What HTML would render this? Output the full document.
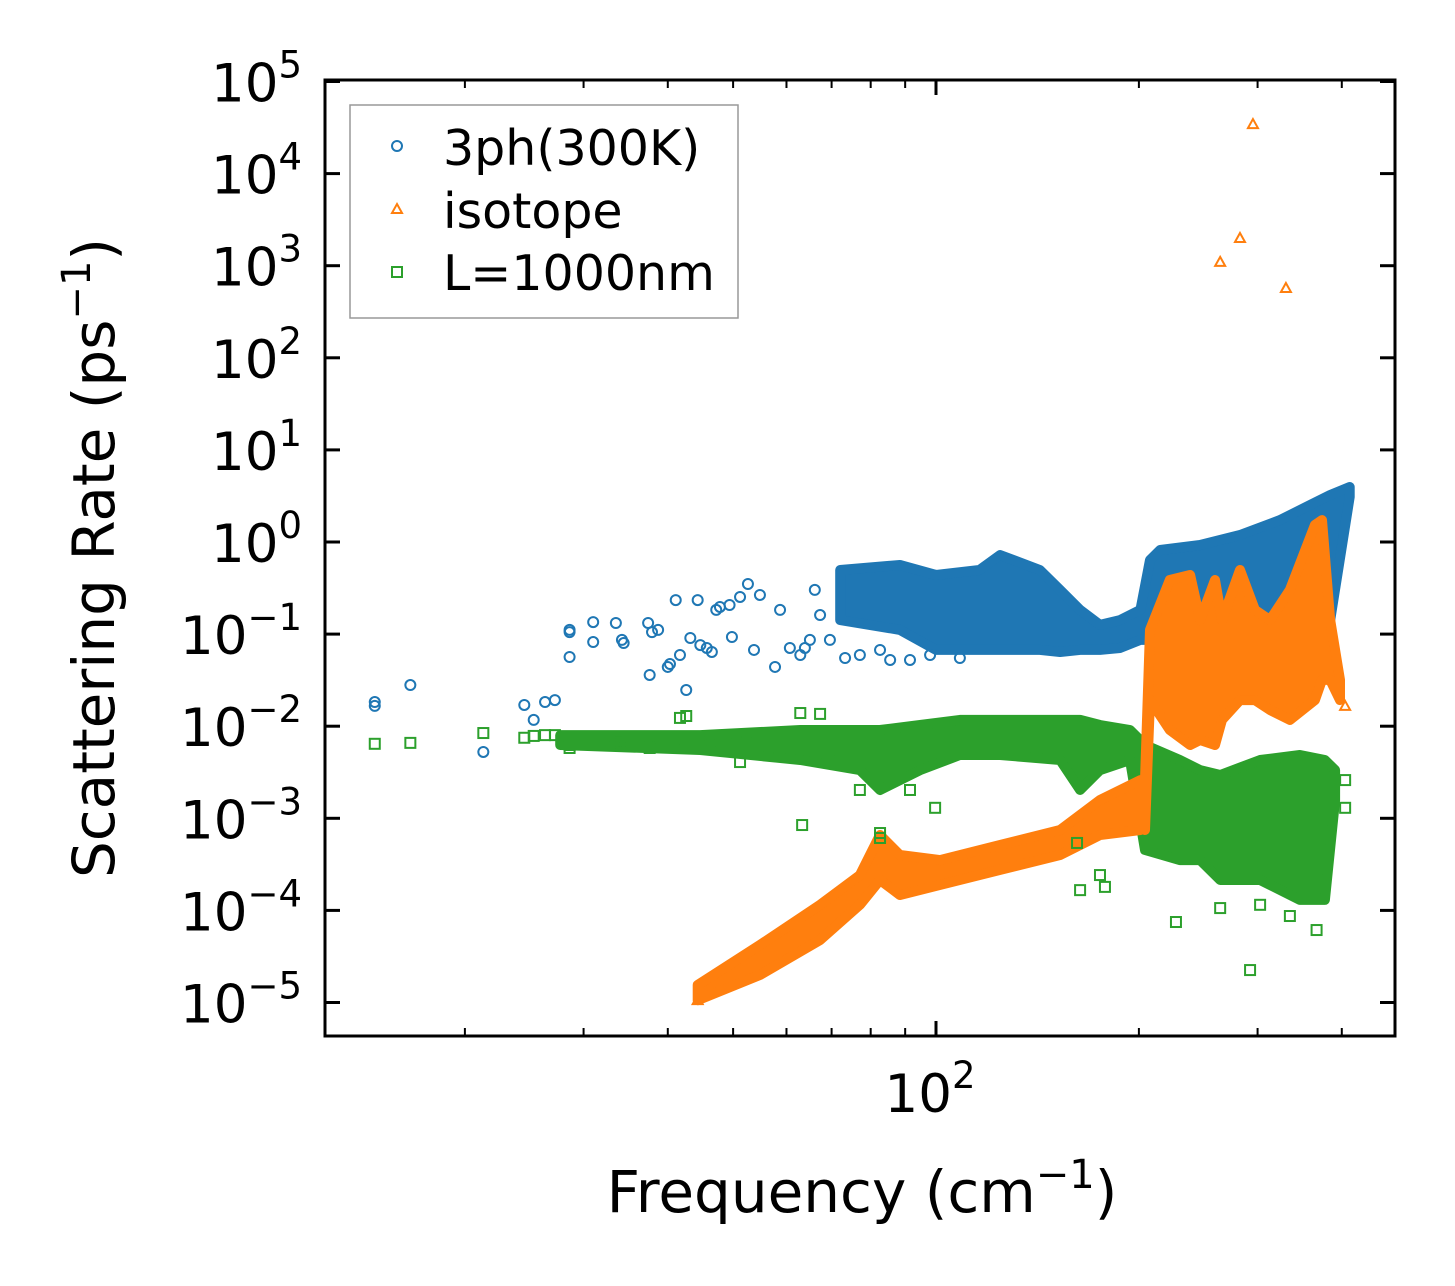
<!DOCTYPE html>
<html><head><meta charset="utf-8"><style>
html,body{margin:0;padding:0;background:#fff}
svg{display:block;font-family:"DejaVu Sans","Liberation Sans",sans-serif}
</style></head><body>
<svg id="chart" width="1455" height="1286" viewBox="0 0 1455 1286" xmlns="http://www.w3.org/2000/svg">
<rect x="0" y="0" width="1455" height="1286" fill="#fff"/>
<g id="bands"></g>
<g id="marks"></g>
<g id="axes"></g>
<rect x="325" y="80" width="1070" height="956" fill="none" stroke="#000" stroke-width="3"/>
<g>
<rect x="350" y="105" width="388" height="213" fill="#fff" stroke="#999" stroke-width="1.5"/>
<circle cx="397" cy="146" r="5" fill="none" stroke="#1f77b4" stroke-width="2"/>
<text x="443" y="165" font-size="49">3ph(300K)</text>
<polygon points="397,204 402,213 392,213" fill="none" stroke="#ff7f0e" stroke-width="2"/>
<text x="443" y="228" font-size="49">isotope</text>
<rect x="392" y="267" width="10" height="10" fill="none" stroke="#2ca02c" stroke-width="2"/>
<text x="443" y="290" font-size="49">L=1000nm</text>
</g>
<text x="862" y="1212" font-size="58" text-anchor="middle">Frequency (cm<tspan font-size="40" dy="-24">−1</tspan><tspan dy="24">)</tspan></text>
<text transform="translate(114,558) rotate(-90)" font-size="58" text-anchor="middle">Scattering Rate (ps<tspan font-size="40" dy="-24">−1</tspan><tspan dy="24">)</tspan></text>
</svg>
<script>
// ---- data ----
const blueBandFreq=[72.1,88.4,100,116,124.5,142.6,152.8,163.6,175.1,187.5,201,207.7,215,246.5,282.5,323.8,359,384.5,411];
const blueBandHigh=[0.497,0.563,0.438,0.497,0.722,0.497,0.302,0.183,0.126,0.142,0.183,0.638,0.819,0.928,1.19,1.73,2.52,3.24,3.96];
const blueBandLow=[0.142,0.111,0.0673,0.0673,0.0673,0.0673,0.064,0.0673,0.0673,0.0707,0.0865,0.0865,0.111,0.142,0.142,0.142,0.142,0.142,3.08];
const isoLowFreq=[44.3,54.8,67.3,77.1,82.6,88.4,101.4,124.5,152.8,175.1,201];
const isoLowHigh=[1.55e-5,4.21e-5,1.15e-4,2.42e-4,6.59e-4,4.0e-4,3.52e-4,5.13e-4,7.46e-4,1.58e-3,2.6e-3];
const isoLowLow=[1.06e-5,1.99e-5,4.77e-5,1.15e-4,2.14e-4,1.47e-4,1.89e-4,2.75e-4,4.0e-4,6.59e-4,7.46e-4];
const isoHighFreq=[204.2,207.7,222.3,238.2,246.5,259.4,265.7,282.5,297.3,313,335,364.9,373.8,384.5,397.5];
const isoHighHigh=[2.6e-3,0.111,0.387,0.438,0.142,0.387,0.142,0.497,0.183,0.142,0.302,1.53,1.73,0.142,0.0318];
const isoHighLow=[7.46e-4,0.0192,0.0091,0.00625,0.00708,0.00625,0.0117,0.0192,0.0192,0.015,0.0117,0.0192,0.0318,0.0318,0.0192];
const greenBandFreq=[27.7,44.7,62.9,77.1,82.6,94.7,108.5,124.5,152.8,163.6,175.1,194,204.2,230,246.5,264,302.6,346.7,377.6,391];
const greenBandHigh=[0.008,0.008,0.0091,0.0091,0.0091,0.0103,0.0117,0.0117,0.0117,0.0117,0.0103,0.0091,0.00625,0.0043,0.00334,0.00295,0.0043,0.00487,0.0043,0.00334];
const greenBandLow=[0.00625,0.00552,0.0043,0.00334,0.00203,0.00334,0.00487,0.00487,0.0043,0.00203,0.00334,0.0043,4.53e-4,3.52e-4,3.52e-4,2.14e-4,2.14e-4,1.3e-4,1.3e-4,1.58e-3];
const blueFreq=[14.7,14.7,16.6,21.3,24.5,25.3,26.3,27.2,28.6,28.6,28.6,31.0,31.0,33.5,34.2,34.4,37.4,37.6,37.9,38.7,40.0,40.3,41.1,41.7,42.6,43.2,44.3,44.7,45.7,46.5,47.2,47.8,49.4,49.8,51.2,52.6,53.7,54.8,57.7,58.7,60.7,62.9,63.9,65.0,66.1,67.3,69.6,73.3,77.1,82.6,85.5,91.5,98.0,108.5];
const blueRate=[0.0183,0.0166,0.028,0.00525,0.017,0.0117,0.0183,0.0192,0.111,0.105,0.0564,0.135,0.082,0.132,0.0865,0.080,0.132,0.036,0.105,0.111,0.044,0.0473,0.234,0.0593,0.0247,0.0907,0.234,0.076,0.0707,0.064,0.183,0.197,0.207,0.093,0.253,0.35,0.0673,0.266,0.044,0.183,0.0707,0.0593,0.0707,0.0865,0.302,0.161,0.0865,0.055,0.0593,0.0673,0.0524,0.0524,0.0593,0.055];
const isoFreq=[295.3,282.5,264,330.5,404.6,44.3];
const isoRate=[34500,2000,1100,573,0.0166,1.06e-5];
const greenFreq=[14.7,16.6,21.3,24.5,25.3,26.3,27.2,28.6,28.6,33.5,34.2,37.4,37.6,41.1,41.7,42.6,44.7,45.9,51.2,52.1,56.7,62.9,63.3,67.3,72.1,77.1,82.6,82.6,91.5,99.7,161.9,175.1,163.6,178.1,227,264,292.4,302.6,335,367,404.6,404.6];
const greenRate=[0.00644,0.00659,0.00843,0.00749,0.00784,0.008,0.008,0.00625,0.0058,0.00659,0.00659,0.00675,0.0058,0.00675,0.0123,0.0129,0.00708,0.00766,0.00408,0.00708,0.00552,0.0139,0.000845,0.0136,0.00552,0.00203,0.000692,0.000611,0.00203,0.0013,0.00054,0.000242,0.000166,0.00018,0.0000748,0.000106,0.0000225,0.000115,0.0000869,0.0000612,0.0013,0.0026];
const yTickExp=[5,4,3,2,1,0,-1,-2,-3,-4,-5];
const xMajorTicks=[100];
const xMinorTicks=[20,30,40,50,60,70,80,90,200,300,400];

// ---- axes ----
const X0=325,X1=1395,Y0=80,Y1=1036;
function xs(f){return 936+674*(Math.log10(f)-2);}
function ys(v){return 542-92.1*Math.log10(v);}
const NS="http://www.w3.org/2000/svg";
function mk(tag,attrs,parent){const e=document.createElementNS(NS,tag);for(const k in attrs)e.setAttribute(k,attrs[k]);parent.appendChild(e);return e;}
const bands=document.getElementById('bands'),marks=document.getElementById('marks'),axes=document.getElementById('axes');

function band(fr,hi,lo,color,name){
  const pts=[];
  for(let i=0;i<fr.length;i++)pts.push(xs(fr[i]).toFixed(1)+','+ys(hi[i]).toFixed(1));
  for(let i=fr.length-1;i>=0;i--)pts.push(xs(fr[i]).toFixed(1)+','+ys(lo[i]).toFixed(1));
  const p=mk('polygon',{points:pts.join(' '),fill:color,stroke:color,'stroke-width':10,'stroke-linejoin':'round'},bands);
  
  
}
band(blueBandFreq,blueBandHigh,blueBandLow,'#1f77b4','band-3ph');
band(greenBandFreq,greenBandHigh,greenBandLow,'#2ca02c','band-boundary');
band(isoLowFreq,isoLowHigh,isoLowLow,'#ff7f0e','band-isotope-low');
band(isoHighFreq,isoHighHigh,isoHighLow,'#ff7f0e','band-isotope-high');

blueFreq.forEach((f,i)=>{
  const c=mk('circle',{cx:xs(f),cy:ys(blueRate[i]),r:5,fill:'none',stroke:'#1f77b4','stroke-width':2},marks);
  
  
});
greenFreq.forEach((f,i)=>{
  const x=xs(f),y=ys(greenRate[i]);
  const r=mk('rect',{x:x-5,y:y-5,width:10,height:10,fill:'none',stroke:'#2ca02c','stroke-width':2},marks);
  
  
});
isoFreq.forEach((f,i)=>{
  const x=xs(f),y=ys(isoRate[i]);
  const t=mk('polygon',{points:`${x},${y-5} ${x+5},${y+4} ${x-5},${y+4}`,fill:'none',stroke:'#ff7f0e','stroke-width':2},marks);
  
  
});

// y ticks
yTickExp.forEach(e=>{
  const y=ys(Math.pow(10,e));
  const t1=mk('line',{x1:X0,y1:y,x2:X0+15,y2:y,stroke:'#000','stroke-width':3},axes);
  
  
  const t2=mk('line',{x1:X1,y1:y,x2:X1-15,y2:y,stroke:'#000','stroke-width':3},axes);
  
  
  const lab=mk('text',{x:302,y:y+20,'font-size':53,'text-anchor':'end'},axes);
  
  
  const ex=(e<0?'−':'')+Math.abs(e);
  lab.innerHTML='10<tspan font-size="37" dy="-24">'+ex+'</tspan>';
});
// x ticks
xMajorTicks.forEach(f=>{
  const x=xs(f);
  const a=mk('line',{x1:x,y1:Y1,x2:x,y2:Y1-15,stroke:'#000','stroke-width':3},axes);
  
  
  const b=mk('line',{x1:x,y1:Y0,x2:x,y2:Y0+15,stroke:'#000','stroke-width':3},axes);
  
  
  const lab=mk('text',{x:x-6,y:1112,'font-size':53,'text-anchor':'middle'},axes);
  
  
  lab.innerHTML='10<tspan font-size="37" dy="-24">'+Math.round(Math.log10(f))+'</tspan>';
});
xMinorTicks.forEach(f=>{
  const x=xs(f);
  if(x<X0||x>X1)return;
  const a=mk('line',{x1:x,y1:Y1,x2:x,y2:Y1-8,stroke:'#000','stroke-width':2},axes);
  
  
  const b=mk('line',{x1:x,y1:Y0,x2:x,y2:Y0+8,stroke:'#000','stroke-width':2},axes);
  
  
});
</script>
</body></html>
